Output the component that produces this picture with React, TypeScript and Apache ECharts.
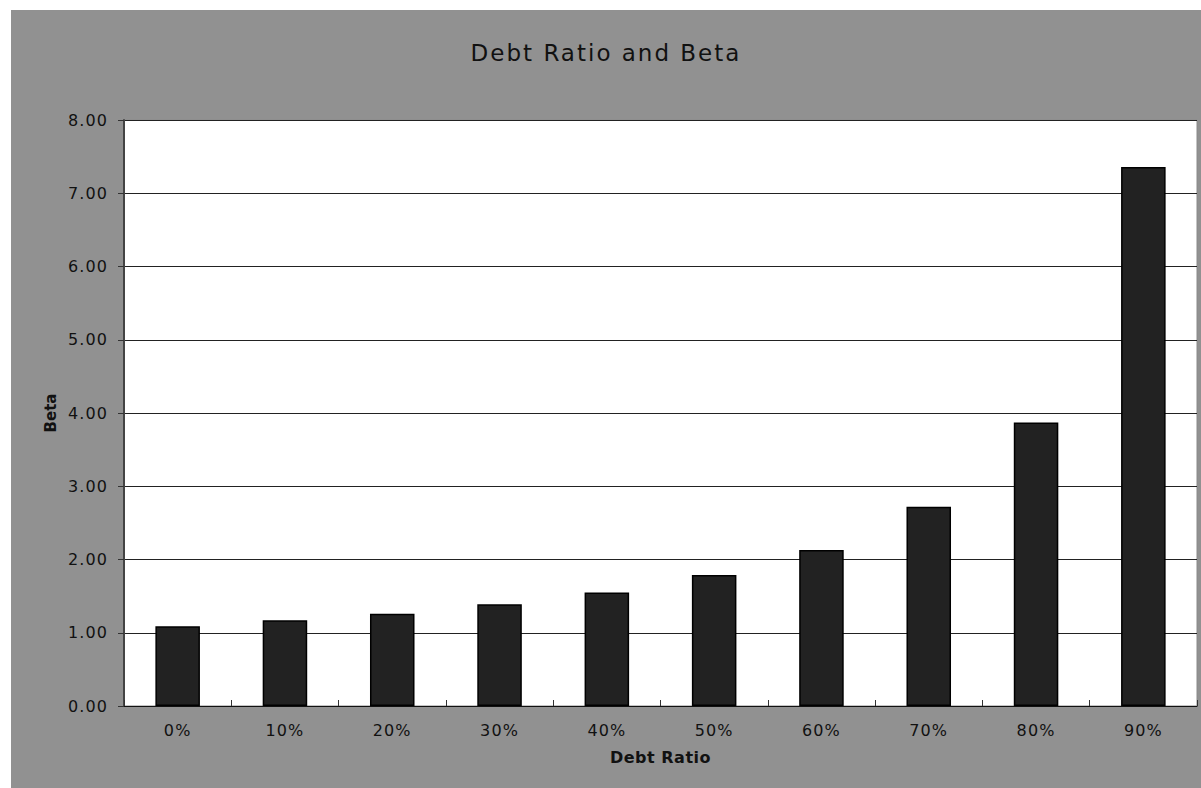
import React, { useEffect, useRef } from "react";
import * as echarts from "echarts";

const categories = ["0%", "10%", "20%", "30%", "40%", "50%", "60%", "70%", "80%", "90%"];
const betaValues = [1.09, 1.17, 1.26, 1.39, 1.55, 1.79, 2.13, 2.72, 3.87, 7.36];
const yMin = 0;
const yMax = 8;
const yInterval = 1;
const titleText = "Debt Ratio and Beta";
const xName = "Debt Ratio";
const yName = "Beta";

const FONT = "'DejaVu Sans', Verdana, sans-serif";

function applySpacing(root: HTMLElement) {
  const texts = root.querySelectorAll("text");
  texts.forEach((t) => {
    const s = t.textContent || "";
    let ls = "1.1px";
    if (s === titleText) ls = "2px";
    else if (s === xName) ls = "0.5px";
    else if (s === yName) ls = "0px";
    t.setAttribute("letter-spacing", ls);
    (t as SVGTextElement).style.letterSpacing = ls;
  });
}

export default function App() {
  const ref = useRef<HTMLDivElement>(null);
  useEffect(() => {
    if (!ref.current) return;
    document.body.style.overflow = "hidden";
    const el = ref.current;
    const chart = echarts.init(el, undefined, { renderer: "svg" });
    chart.setOption({
      animation: false,
      backgroundColor: "#919191",
      title: {
        text: titleText,
        left: "center",
        top: 26,
        textStyle: { fontFamily: FONT, fontSize: 23, fontWeight: "normal", color: "#111" },
      },
      grid: {
        left: 113,
        top: 110,
        right: 4,
        bottom: 82,
        show: true,
        backgroundColor: "#ffffff",
        borderColor: "#8a8a8a",
        borderWidth: 1,
      },
      xAxis: {
        type: "category",
        data: categories,
        name: xName,
        nameLocation: "middle",
        nameGap: 43,
        nameTextStyle: { fontFamily: FONT, fontSize: 16, fontWeight: "bold", color: "#111" },
        axisLine: { lineStyle: { color: "#111", width: 1 } },
        axisTick: { show: true, inside: true, length: 6, lineStyle: { color: "#333" } },
        axisLabel: { fontFamily: FONT, fontSize: 16, color: "#111", margin: 16 },
        splitLine: { show: false },
      },
      yAxis: {
        type: "value",
        min: yMin,
        max: yMax,
        interval: yInterval,
        name: yName,
        nameLocation: "middle",
        nameGap: 66,
        nameTextStyle: { fontFamily: FONT, fontSize: 15, fontWeight: "bold", color: "#111" },
        axisLine: { show: true, lineStyle: { color: "#444", width: 2 } },
        axisTick: { show: true, inside: false, length: 6, lineStyle: { color: "#333" } },
        axisLabel: {
          fontFamily: FONT,
          fontSize: 16,
          color: "#111",
          margin: 16,
          formatter: (v: number) => v.toFixed(2),
        },
        splitLine: { show: true, lineStyle: { color: "#222", width: 1 } },
      },
      series: [
        {
          type: "bar",
          data: betaValues,
          barWidth: "41.5%",
          itemStyle: { color: "#222222", borderColor: "#000000", borderWidth: 1.5 },
        },
      ],
    });
    applySpacing(el);
    const onFinished = () => applySpacing(el);
    chart.on("finished", onFinished);
    const raf = requestAnimationFrame(() => applySpacing(el));
    return () => {
      cancelAnimationFrame(raf);
      chart.off("finished", onFinished);
      chart.dispose();
    };
  }, []);
  return (
    <div
      ref={ref}
      style={{ position: "absolute", left: 11, top: 10, width: 1190, height: 778 }}
    />
  );
}
